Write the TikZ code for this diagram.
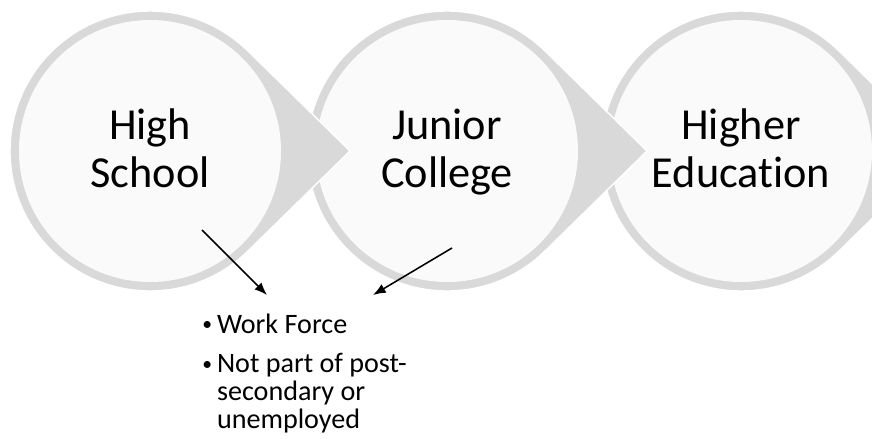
\documentclass[tikz,border=0pt]{standalone}
\usepackage{fontspec}
\setmainfont{Carlito}[Ligatures=NoCommon]
\usetikzlibrary{arrows.meta}
\definecolor{ringgray}{HTML}{D9D9D9}
\definecolor{innergray}{HTML}{FAFAFA}
\tikzset{
	ring/.style={fill=ringgray, draw=white, line width=1pt},
	inner/.style={fill=innergray},
	stage/.style={align=center, inner sep=0pt, font=\fontsize{31.5}{34}\selectfont},
	exitlist/.style={anchor=base west, inner sep=0pt, font=\fontsize{20}{20}\selectfont},
	outarrow/.style={line width=1.1pt, -{Latex[length=9pt,width=7pt]}}
}
\def\teardrop(#1,#2){\filldraw[ring] (#1+200,#2) -- ({#1+140*cos(45.57)},{#2+140*sin(45.57)}) arc (45.57:314.43:140) -- cycle; \fill[inner] (#1,#2) circle (131);}
\newcommand{\listdot}{\raisebox{1.5pt}{\fontsize{14}{14}\selectfont\textbullet}}

\begin{document}
\begin{tikzpicture}[x=0.025cm, y=0.025cm]
		%%%%% START %%%%%
		\useasboundingbox (0, 0) rectangle (872, -439);
		
		\teardrop(741,-151)
		\teardrop(447,-151)
		\teardrop(150,-151)
		
		\node[stage] (hs) at (150, -154) {High\strut\\School\strut};
		\node[stage] (jc) at (447, -154) {Junior\strut\\College\strut};
		\node[stage] (he) at (741, -154) {Higher\strut\\Education\strut};
		
		\node[exitlist] (exits) at (202, -333) {\begin{tabular}[t]{@{}l@{\hspace{3.5pt}}l@{}}
			\listdot & Work Force\\[8pt]
			\listdot & Not part of post-\\
			& secondary or\\
			& unemployed
		\end{tabular}};
		
		\coordinate (hs-a) at (202, -230);
		\coordinate (jc-a) at (452, -248);
		\coordinate (exits-l) at (267, -295);
		\coordinate (exits-r) at (373, -295);
		\draw[outarrow] (hs-a) -- (exits-l);
		\draw[outarrow] (jc-a) -- (exits-r);
		
		%%%%% END %%%%%
	\end{tikzpicture}
\end{document}
